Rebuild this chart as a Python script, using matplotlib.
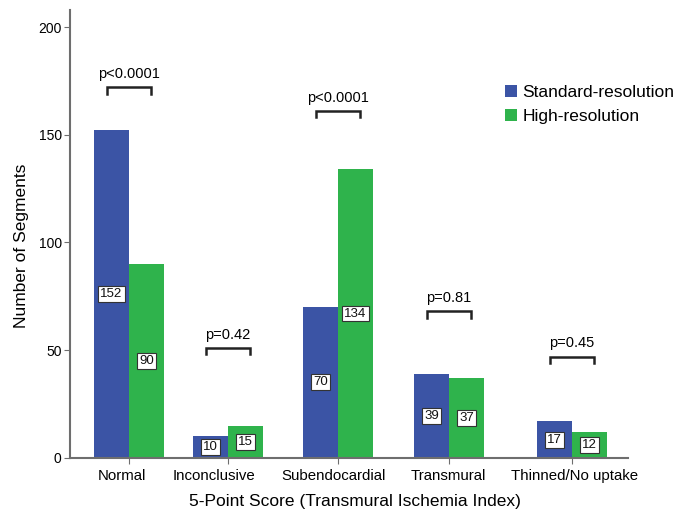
import numpy as np
import matplotlib
matplotlib.use("Agg")
import matplotlib.pyplot as plt
import matplotlib.transforms as mtransforms

# # # # # data # # # # #

categories = ["Normal", "Inconclusive", "Subendocardial", "Transmural", "Thinned/No uptake"]
standard_res = [152, 10, 70, 39, 17]
high_res = [90, 15, 134, 37, 12]
p_labels = ["p<0.0001", "p=0.42", "p<0.0001", "p=0.81", "p=0.45"]
bracket_y = [172, 51, 161, 68, 47]

# # # # # layout # # # # #

x_pos = np.array([0.0, 0.894, 1.887, 2.889, 4.0])
label_shift = [-7, -14, -4, -1, 3]   # pixel nudges of the category labels
bar_w = 0.316
blue = "#3b54a5"
green = "#2fb34c"
axis_col = "#6e6e6e"

plt.rcParams['font.family'] = ['Liberation Sans', 'DejaVu Sans']

fig = plt.figure(figsize=(6.86, 5.15), dpi=100)
ax = fig.add_axes([0.102, 0.111, 0.8135, 0.870])

ax.bar(x_pos - bar_w / 2, standard_res, bar_w, color=blue, label="Standard-resolution")
ax.bar(x_pos + bar_w / 2, high_res, bar_w, color=green, label="High-resolution")

# value boxes at mid height of each bar
box = dict(boxstyle="square,pad=0.15", fc="white", ec="#333333", lw=0.8)
for xs, vals in ((x_pos - bar_w / 2, standard_res), (x_pos + bar_w / 2, high_res)):
	for x, v in zip(xs, vals):
		ax.text(x, v / 2, str(v), ha="center", va="center", fontsize=9.5,
			color="#111111", bbox=box)

# significance brackets
half = 0.2
leg = 3
for x, y, lab in zip(x_pos, bracket_y, p_labels):
	ax.plot([x - half, x - half, x + half, x + half], [y - leg, y, y, y - leg],
		color="#222222", lw=1.8, solid_joinstyle="miter")
	ax.text(x, y + 3, lab, ha="center", va="bottom", fontsize=10.5)

ax.set_xlim(-0.533, 4.506)
ax.set_ylim(0, 208)
ax.set_yticks([0, 50, 100, 150, 200])
ax.set_xticks(x_pos)
ax.set_xticklabels(categories, fontsize=10.8)
ax.tick_params(axis="y", labelsize=10, length=4, color=axis_col, pad=2)
ax.tick_params(axis="x", length=4, color=axis_col, pad=4)

for lab, dx in zip(ax.get_xticklabels(), label_shift):
	lab.set_transform(lab.get_transform() + mtransforms.ScaledTranslation(dx / 100, 0, fig.dpi_scale_trans))

for s in ("top", "right"):
	ax.spines[s].set_visible(False)
for s in ("left", "bottom"):
	ax.spines[s].set_color(axis_col)
	ax.spines[s].set_linewidth(1.5)

ax.set_xlabel("5-Point Score (Transmural Ischemia Index)", fontsize=12.5, labelpad=8)
ax.set_ylabel("Number of Segments", fontsize=12.5, labelpad=7)
ax.xaxis.label.set_x(0.511)
ax.yaxis.label.set_y(0.473)

ax.legend(loc="upper left", bbox_to_anchor=(505 / 686, 1 - 85 / 515),
	bbox_transform=fig.transFigure, frameon=False, fontsize=12.5,
	borderpad=0, borderaxespad=0,
	handlelength=0.69, handleheight=0.69, handletextpad=0.3, labelspacing=0.5)

fig.savefig("out.png", dpi=100)
